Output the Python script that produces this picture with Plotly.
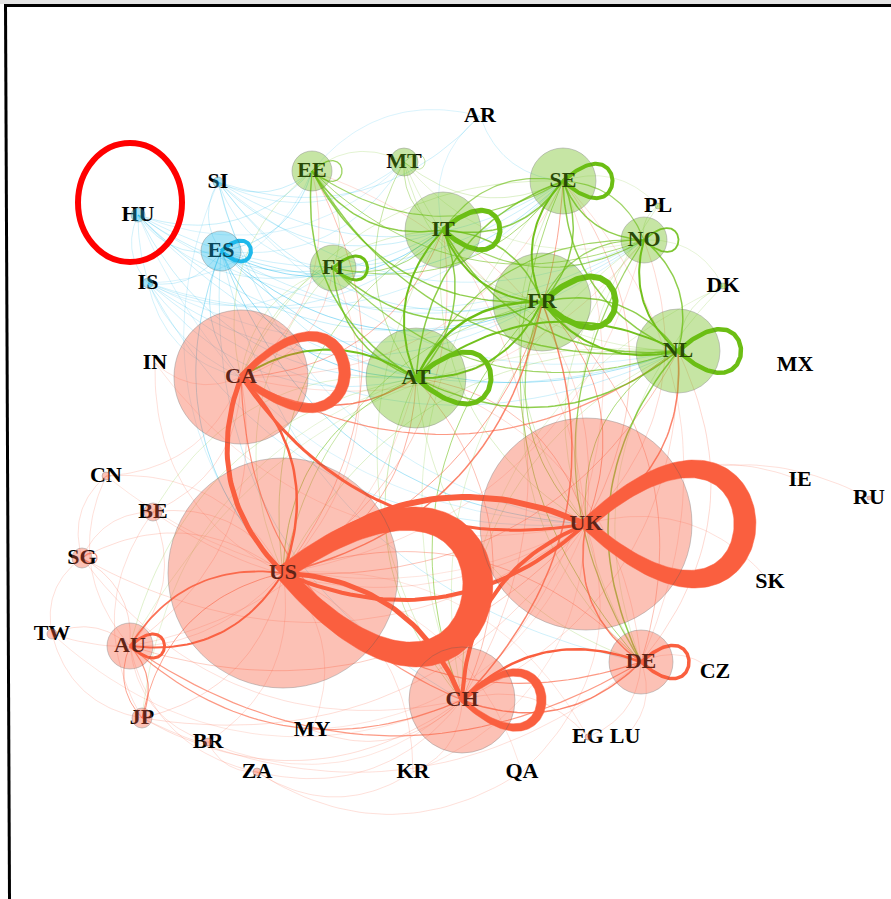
import numpy as np
import plotly.graph_objects as go

W, H = 891, 899

# ---------------------------------------------------------------- nodes
names = ["HU", "SI", "ES", "IS", "AR",
         "EE", "MT", "IT", "SE", "NO", "PL", "DK", "FI", "FR", "NL", "AT",
         "CA", "US", "UK", "CH", "DE", "AU", "CN", "BE", "SG", "TW", "JP", "BR", "ZA",
         "MY", "KR", "QA", "EG", "LU", "CZ", "SK", "IE", "RU", "MX", "IN"]
pos_x = [138, 218, 221, 148, 480,
         312, 404, 443, 563, 644, 658, 723, 333, 542, 678, 416,
         241, 283, 586, 462, 641, 130, 106, 153, 82, 52, 142, 208, 257,
         312, 413, 522, 588, 625, 715, 770, 800, 869, 795, 155]
pos_y = [215, 182, 251, 283, 116,
         171, 162, 230, 181, 240, 206, 286, 268, 302, 351, 378,
         377, 573, 524, 700, 662, 646, 476, 512, 558, 634, 718, 742, 772,
         730, 772, 772, 737, 737, 672, 582, 480, 498, 365, 363]
radius = [7, 5, 20, 5, 0,
          20, 14, 38, 33, 23, 3, 3, 23, 49, 42, 50,
          67, 115, 106, 53, 32, 23, 4, 9, 10, 5, 10, 4, 4,
          0, 0, 0, 3, 0, 0, 0, 0, 2, 0, 0]
community = ["blue"] * 5 + ["green"] * 11 + ["red"] * 24

# ---------------------------------------------------------------- edges (source, target, weight)
self_links = [("US", 26), ("UK", 19), ("CA", 10), ("CH", 8), ("DE", 3.5), ("AU", 3),
              ("SG", 1.2), ("FR", 6), ("IT", 5), ("AT", 5), ("NL", 4.5), ("SE", 4),
              ("FI", 3), ("NO", 1.8), ("EE", 1.3), ("MT", 0.8), ("ES", 4)]

red_links = [
    ("UK", "US", 6), ("US", "UK", 4), ("CA", "US", 5), ("US", "CA", 2.5), ("CH", "US", 5),
    ("UK", "CH", 4), ("CA", "UK", 3), ("DE", "CH", 2.5), ("CH", "DE", 1.5), ("AU", "US", 2),
    ("US", "AU", 1.8), ("UK", "DE", 1.5), ("US", "DE", 1.2), ("AU", "CH", 1.2), ("AU", "DE", 1.2),
    ("US", "FR", 1.5), ("CH", "FR", 1.5), ("CA", "AT", 1.5), ("UK", "NL", 1.5), ("CA", "NL", 1.2),
    ("US", "SE", 1.0), ("US", "EE", 0.8), ("CA", "IT", 0.9), ("UK", "FR", 1.0), ("US", "JP", 1.0),
    ("JP", "AU", 1.2), ("AU", "JP", 1.0), ("CA", "CH", 1.2), ("DE", "US", 0.8), ("DE", "FR", 0.8),
    ("DE", "NL", 0.6), ("CH", "AT", 0.8), ("CH", "IT", 0.6), ("UK", "AT", 0.8), ("UK", "SE", 0.7),
    ("UK", "NO", 0.6), ("CA", "EE", 0.6), ("CA", "FI", 0.6), ("US", "IT", 0.7), ("US", "NL", 0.8),
    ("US", "AT", 0.9), ("US", "BE", 0.5), ("US", "SG", 0.5), ("US", "CN", 0.4), ("AU", "SG", 0.6),
    ("AU", "TW", 0.5), ("AU", "BE", 0.5), ("AU", "BR", 0.4), ("AU", "ZA", 0.4), ("SG", "TW", 0.4),
    ("CN", "SG", 0.4), ("CN", "AU", 0.4), ("BE", "SG", 0.4), ("BE", "JP", 0.4), ("TW", "JP", 0.4),
    ("JP", "US", 0.6), ("JP", "CH", 0.5), ("BR", "ZA", 0.4), ("ZA", "QA", 0.4), ("ZA", "CH", 0.4),
    ("MY", "US", 0.4), ("MY", "CH", 0.5), ("KR", "US", 0.4), ("KR", "CH", 0.4), ("QA", "UK", 0.4),
    ("EG", "CH", 0.5), ("EG", "DE", 0.5), ("LU", "DE", 0.4), ("CZ", "DE", 0.4), ("IE", "UK", 0.4),
    ("SK", "UK", 0.4), ("IN", "CA", 0.4), ("IN", "US", 0.4), ("BE", "CA", 0.5), ("CN", "CA", 0.4),
    ("AU", "CA", 0.6), ("AU", "UK", 0.7), ("SG", "UK", 0.5), ("JP", "UK", 0.5), ("RU", "UK", 0.4),
    ("TW", "US", 0.4), ("BR", "US", 0.4), ("ZA", "KR", 0.4), ("BE", "UK", 0.4), ("CN", "UK", 0.3),
    ("SG", "CH", 0.4), ("TW", "CH", 0.3), ("JP", "DE", 0.4), ("BR", "CH", 0.3), ("MY", "UK", 0.3),
    ("KR", "UK", 0.3), ("QA", "US", 0.3), ("EG", "US", 0.3), ("IN", "UK", 0.3), ("CA", "SE", 0.5),
    ("CA", "NO", 0.4), ("US", "FI", 0.5), ("US", "NO", 0.4), ("UK", "IT", 0.6), ("UK", "EE", 0.4),
    ("DE", "AT", 0.5), ("DE", "SE", 0.4), ("CH", "NL", 0.5), ("CH", "SE", 0.4), ("AU", "AT", 0.4),
]

green_links = [
    ("FR", "AT", 2.5), ("AT", "FR", 2), ("IT", "AT", 2), ("AT", "IT", 1.5), ("IT", "FR", 2),
    ("FR", "IT", 1.5), ("SE", "FR", 2), ("FR", "SE", 1.5), ("NO", "NL", 2), ("NL", "NO", 1.5),
    ("FR", "NL", 2), ("NL", "FR", 1.5), ("NL", "AT", 2), ("AT", "NL", 1.5), ("AT", "CA", 2),
    ("IT", "SE", 1.5), ("SE", "IT", 1.2), ("IT", "NL", 1.5), ("IT", "NO", 1.2), ("SE", "NO", 1.5),
    ("NO", "SE", 1.2), ("SE", "NL", 1.5), ("SE", "AT", 1.5), ("NO", "FR", 1.2), ("NO", "AT", 1.2),
    ("EE", "IT", 1.5), ("EE", "FR", 1.5), ("EE", "AT", 1.5), ("EE", "NL", 1.4), ("EE", "SE", 1.2),
    ("EE", "NO", 1.0), ("FI", "AT", 1.5), ("FI", "FR", 1.5), ("FI", "NL", 1.2), ("FI", "SE", 1.0),
    ("FI", "IT", 1.0), ("NL", "DE", 1.5), ("NO", "DE", 1.2), ("SE", "DE", 1.0), ("FR", "CH", 1.0),
    ("NL", "UK", 1.0), ("AT", "US", 1.0), ("FR", "UK", 1.0), ("IT", "US", 0.8), ("MT", "AT", 0.8),
    ("MT", "IT", 0.8), ("MT", "FR", 0.6), ("MT", "SE", 0.6), ("PL", "NO", 0.5), ("PL", "DE", 0.4),
    ("DK", "NL", 0.5), ("DK", "DE", 0.4), ("AT", "AU", 0.5), ("FR", "US", 0.8), ("SE", "UK", 0.6),
    ("IT", "CA", 0.6), ("NL", "US", 0.6), ("EE", "CA", 0.5), ("FI", "US", 0.5), ("NO", "UK", 0.5),
    ("AT", "CH", 0.7), ("IT", "UK", 0.6), ("SE", "CA", 0.5), ("MT", "EE", 0.4), ("AT", "BE", 0.4),
    ("MT", "NL", 0.4), ("MT", "NO", 0.3), ("PL", "SE", 0.3), ("DK", "NO", 0.3), ("DK", "CH", 0.3),
    ("FI", "EE", 0.5), ("NL", "CH", 0.5), ("NO", "CH", 0.4), ("SE", "CH", 0.4), ("IT", "CH", 0.5),
    ("AT", "DE", 0.5), ("FR", "DE", 0.6), ("FI", "CA", 0.4), ("AT", "JP", 0.3), ("NL", "AU", 0.3),
]

blue_links = [
    ("HU", "ES", 0.6), ("HU", "EE", 0.6), ("HU", "IT", 0.6), ("HU", "FR", 0.6), ("HU", "AT", 0.6),
    ("HU", "NL", 0.5), ("HU", "SE", 0.5), ("HU", "IS", 0.4), ("SI", "EE", 0.6), ("SI", "IT", 0.6),
    ("SI", "AT", 0.6), ("SI", "FR", 0.6), ("SI", "SE", 0.5), ("SI", "AR", 0.5), ("SI", "ES", 0.5),
    ("ES", "IT", 0.9), ("ES", "FR", 0.9), ("ES", "AT", 0.9), ("ES", "UK", 0.8), ("ES", "US", 0.8),
    ("ES", "NL", 0.8), ("ES", "CA", 0.7), ("ES", "SE", 0.7), ("ES", "EE", 0.7), ("ES", "FI", 0.6),
    ("IS", "ES", 0.5), ("IS", "AT", 0.5), ("IS", "FR", 0.5), ("IS", "UK", 0.5), ("IS", "NL", 0.5),
    ("IS", "IT", 0.5), ("ES", "CH", 0.6), ("ES", "DE", 0.5), ("AR", "SE", 0.4), ("SI", "NO", 0.4),
    ("HU", "CA", 0.4), ("IS", "CA", 0.4), ("SI", "UK", 0.4), ("HU", "NO", 0.4), ("SI", "NL", 0.4),
    ("IS", "SE", 0.4), ("IS", "NO", 0.3), ("ES", "NO", 0.5), ("ES", "MT", 0.4), ("HU", "MT", 0.3),
    ("SI", "MT", 0.4), ("IS", "EE", 0.3), ("HU", "FI", 0.4), ("SI", "FI", 0.4), ("IS", "FI", 0.3),
    ("AR", "IT", 0.3), ("AR", "EE", 0.3), ("HU", "UK", 0.3), ("SI", "US", 0.3),
]

# ---------------------------------------------------------------- styling
EDGE_RGB = {"red": (250, 95, 63), "green": (108, 190, 20), "blue": (30, 185, 235)}
NODE_ALPHA = 0.55

idx = {n: i for i, n in enumerate(names)}
pt = lambda n: np.array([pos_x[idx[n]], pos_y[idx[n]]], float)


def rgba(group, a):
    r, g, b = EDGE_RGB[group]
    return f"rgba({r},{g},{b},{a:.3f})"


def arc_path(p, q, k=0.32, n=40):
    # quadratic Bezier bending to the right of the direction of travel
    d = q - p
    normal = np.array([-d[1], d[0]])
    ctrl = (p + q) / 2 + k * normal
    t = np.linspace(0, 1, n)[:, None]
    pts = (1 - t) ** 2 * p + 2 * (1 - t) * t * ctrl + t ** 2 * q
    return pts[:, 0], pts[:, 1]


def loop_points(c, length, angle=0.0, spread=np.radians(42), n=120):
    a = length / (0.75 * np.cos(spread))
    p1 = c + a * np.array([np.cos(angle - spread), np.sin(angle - spread)])
    p2 = c + a * np.array([np.cos(angle + spread), np.sin(angle + spread)])
    t = np.linspace(0, 1, n)[:, None]
    pts = (1 - t) ** 3 * c + 3 * (1 - t) ** 2 * t * p1 + 3 * (1 - t) * t ** 2 * p2 + t ** 3 * c
    return pts, t[:, 0]


def tapered_band(pts, t, width):
    # ribbon that is narrow where the loop leaves the node and widest at its far end
    tang = np.gradient(pts, axis=0)
    tang /= np.linalg.norm(tang, axis=1, keepdims=True) + 1e-9
    nrm = np.stack([-tang[:, 1], tang[:, 0]], axis=1)
    half = 0.5 * width * (0.5 + 0.5 * np.sin(np.pi * t))[:, None]
    left = pts + nrm * half
    right = pts - nrm * half
    poly = np.vstack([left, right[::-1], left[:1]])
    return poly[:, 0], poly[:, 1]


def edge_alpha(w):
    return float(np.clip(0.16 + 0.40 * w, 0.16, 1.0))


fig = go.Figure()

# ---- links between institutions, thin ones first
all_links = [(s, t, w) for s, t, w in blue_links + green_links + red_links]
all_links.sort(key=lambda e: e[2])
for s, t, w in all_links:
    xs, ys = arc_path(pt(s), pt(t))
    fig.add_trace(go.Scatter(
        x=xs, y=ys, mode="lines", hoverinfo="skip",
        line=dict(color=rgba(community[idx[s]], edge_alpha(w)), width=max(w, 0.6)),
    ))

# ---- self links drawn as teardrop loops to the right of each node
loop_tilt = {"US": (1.7, np.radians(6)), "CA": (1.55, np.radians(-4))}
for n, w in sorted(self_links, key=lambda e: e[1]):
    r = radius[idx[n]]
    grp = community[idx[n]]
    scale, ang = loop_tilt.get(n, (1.5, 0.0))
    pts, t = loop_points(pt(n), r * scale, ang)
    if w >= 8:
        xs, ys = tapered_band(pts, t, w * 1.15)
        fig.add_trace(go.Scatter(
            x=xs, y=ys, mode="lines", fill="toself", hoverinfo="skip",
            fillcolor=rgba(grp, 1.0), line=dict(color=rgba(grp, 1.0), width=0.5),
        ))
    else:
        fig.add_trace(go.Scatter(
            x=pts[:, 0], y=pts[:, 1], mode="lines", hoverinfo="skip",
            line=dict(color=rgba(grp, edge_alpha(w)), width=max(w, 0.8)),
        ))

# ---- country labels (nodes are laid over them)
fig.add_trace(go.Scatter(
    x=pos_x, y=pos_y, mode="text", text=names, hoverinfo="skip",
    textposition="middle center",
    textfont=dict(family="Liberation Serif", size=22, color="black", weight="bold"),
))

# ---- nodes
vis = [i for i, r in enumerate(radius) if r > 0]
fig.add_trace(go.Scatter(
    x=[pos_x[i] for i in vis], y=[pos_y[i] for i in vis], mode="markers", hoverinfo="skip",
    marker=dict(
        size=[2 * radius[i] for i in vis],
        color=[rgba(community[i], NODE_ALPHA) for i in vis],
        line=dict(color="rgba(90,90,90,0.45)", width=1),
    ),
))

fig.update_layout(
    width=W, height=H, margin=dict(l=0, r=0, t=0, b=0),
    paper_bgcolor="white", plot_bgcolor="white", showlegend=False,
    xaxis=dict(range=[0, W], visible=False, fixedrange=True),
    yaxis=dict(range=[H, 0], visible=False, fixedrange=True),
    shapes=[
        dict(type="rect", xref="x", yref="y", x0=0, x1=W, y0=0, y1=4,
             fillcolor="#e4e4e4", line=dict(width=0), layer="below"),
        dict(type="line", xref="x", yref="y", x0=4, x1=W, y0=5.5, y1=5.5,
             line=dict(color="black", width=3)),
        dict(type="line", xref="x", yref="y", x0=5.5, x1=9.5, y0=4, y1=H,
             line=dict(color="black", width=3)),
        dict(type="circle", xref="x", yref="y", x0=78, x1=182, y0=143, y1=262,
             line=dict(color="#ff0000", width=6)),
    ],
)

fig.write_html("out.html")
